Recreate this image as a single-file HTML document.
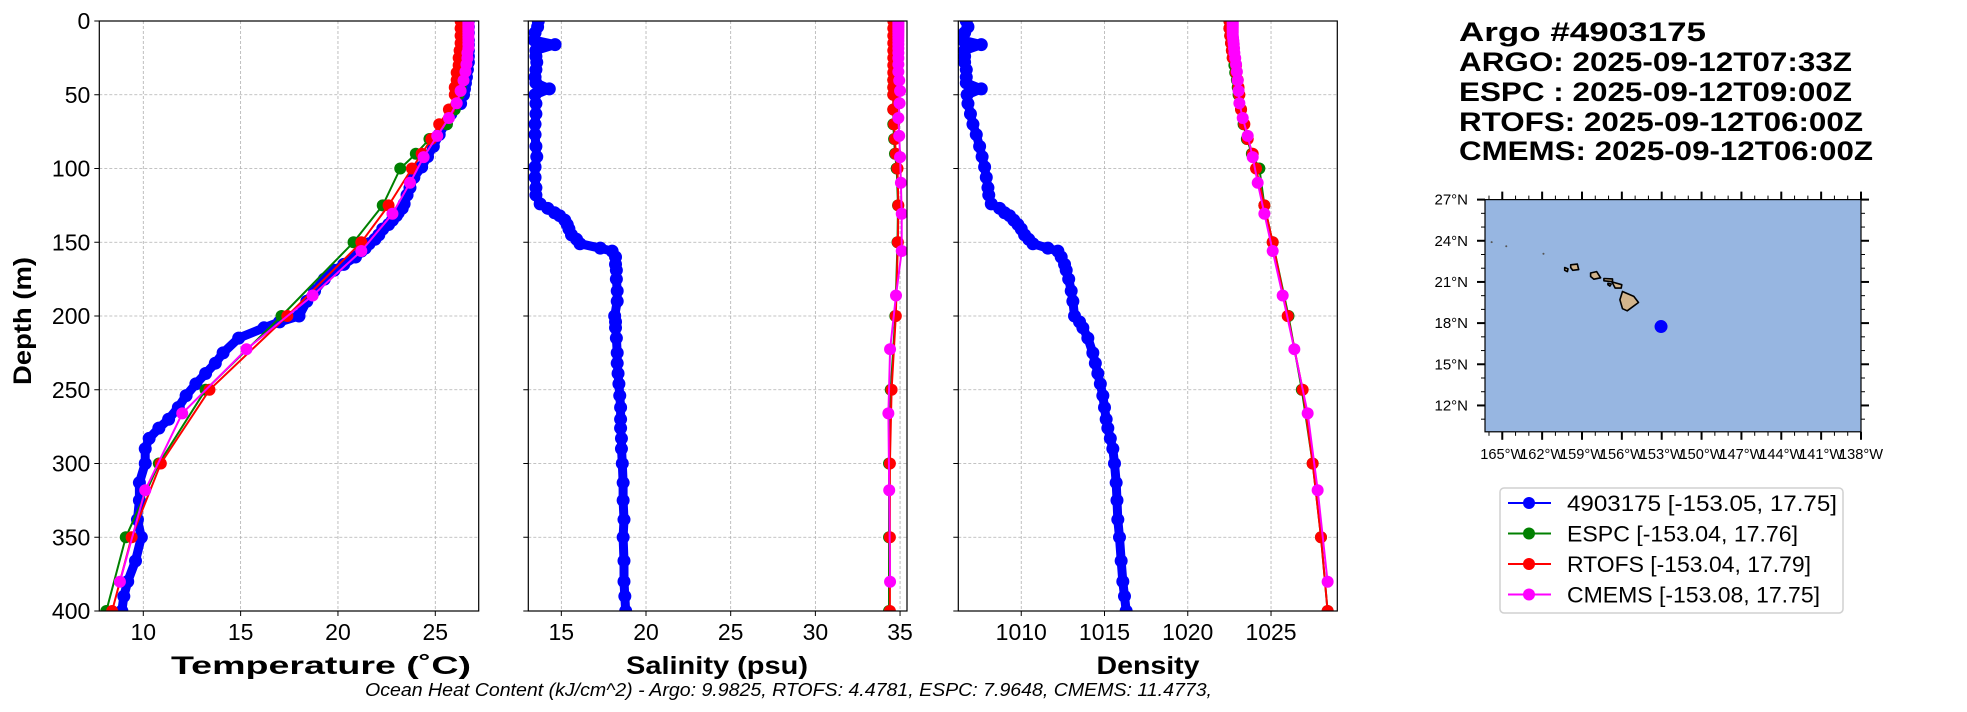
<!DOCTYPE html>
<html><head><meta charset="utf-8"><style>
html,body{margin:0;padding:0;background:#fff;}
svg{display:block;font-family:"Liberation Sans",sans-serif;}
</style></head><body>
<svg id="fig" width="1967" height="712" viewBox="0 0 1967 712" xmlns="http://www.w3.org/2000/svg">
<defs>
<clipPath id="cT"><rect x="99.3" y="21" width="379.4" height="590"/></clipPath>
<clipPath id="cS"><rect x="528.3" y="21" width="378.7" height="590"/></clipPath>
<clipPath id="cD"><rect x="958.3" y="21" width="379" height="590"/></clipPath>
<clipPath id="cM"><rect x="1485" y="199.6" width="376" height="232.2"/></clipPath>
</defs>
<g id="grid"></g>
<g id="series"></g>
<g id="axes"></g>
<g id="titles">
<text x="1459" y="41" font-size="27" font-weight="bold" textLength="247" lengthAdjust="spacingAndGlyphs">Argo #4903175</text>
<text x="1459" y="71" font-size="27" font-weight="bold" textLength="393" lengthAdjust="spacingAndGlyphs">ARGO: 2025-09-12T07:33Z</text>
<text x="1459" y="101" font-size="27" font-weight="bold" textLength="393" lengthAdjust="spacingAndGlyphs">ESPC : 2025-09-12T09:00Z</text>
<text x="1459" y="131" font-size="27" font-weight="bold" textLength="404" lengthAdjust="spacingAndGlyphs">RTOFS: 2025-09-12T06:00Z</text>
<text x="1459" y="160" font-size="27" font-weight="bold" textLength="414" lengthAdjust="spacingAndGlyphs">CMEMS: 2025-09-12T06:00Z</text>
</g>
<text x="365" y="696" font-size="18" font-style="italic" textLength="847" lengthAdjust="spacingAndGlyphs">Ocean Heat Content (kJ/cm^2) - Argo: 9.9825,  RTOFS: 4.4781,  ESPC: 7.9648,  CMEMS: 11.4773,</text>
<g id="map"></g>
<g id="legend"></g>
</svg>
<script>
const NS="http://www.w3.org/2000/svg";
function mk(tag,attrs,parent){const e=document.createElementNS(NS,tag);for(const k in attrs)e.setAttribute(k,attrs[k]);parent.appendChild(e);return e;}

// ---- data ----
const argoDepth=[0,4,8,13,16,20,24,28,33,38,42,46,50,56,63,70,77,85,92,99,106,113,118,124,127,130,132,135,138,141,145,148,151,154,156,160,165,169,175,183,190,200,204,208,215,225,232,239,246,254,262,270,276,283,290,300,313,325,338,350,366,380,390,400];
const argoTemp=[26.7,26.7,26.7,26.7,26.7,26.7,26.7,26.7,26.65,26.6,26.55,26.5,26.45,26.3,25.8,25.5,25.2,24.9,24.6,24.3,23.9,23.7,23.55,23.4,23.3,23.1,23.0,22.8,22.6,22.3,22.1,21.9,21.6,21.4,21.2,20.9,20.3,19.8,19.3,18.8,18.4,18.0,17.0,16.2,14.9,14.1,13.7,13.2,12.7,12.2,11.8,11.3,10.8,10.3,10.1,10.1,9.8,9.8,9.7,9.9,9.6,9.2,9.0,8.9];
const argoSal=[13.64,13.6,13.45,13.4,14.63,13.5,13.5,13.55,13.5,13.45,13.5,14.29,13.45,13.5,13.5,13.45,13.45,13.5,13.55,13.45,13.45,13.5,13.5,13.75,14.2,14.6,14.9,15.2,15.35,15.45,15.6,15.9,16.1,17.3,18.0,18.2,18.2,18.25,18.25,18.3,18.3,18.15,18.2,18.2,18.25,18.3,18.3,18.35,18.4,18.45,18.5,18.5,18.5,18.55,18.55,18.6,18.65,18.65,18.7,18.65,18.7,18.7,18.75,18.8];
const argoDens=[1006.7,1006.8,1006.6,1006.5,1007.6,1006.6,1006.6,1006.6,1006.7,1006.7,1006.7,1007.6,1006.75,1006.8,1006.95,1007.1,1007.3,1007.5,1007.65,1007.8,1007.9,1008.0,1008.05,1008.2,1008.7,1009.0,1009.3,1009.55,1009.8,1010.0,1010.2,1010.45,1010.7,1011.6,1012.2,1012.4,1012.6,1012.7,1012.85,1013.0,1013.1,1013.2,1013.5,1013.7,1014.0,1014.3,1014.45,1014.6,1014.75,1014.9,1015.0,1015.1,1015.2,1015.35,1015.5,1015.6,1015.7,1015.75,1015.8,1015.9,1016.0,1016.1,1016.2,1016.3];

const hycomDepth=[0,5,10,15,20,25,30,35,40,45,50,60,70,80,90,100,125,150,200,250,300,350,400];
const espcTemp=[26.5,26.5,26.5,26.5,26.5,26.45,26.4,26.4,26.35,26.3,26.2,26.0,25.6,24.7,24.0,23.2,22.3,20.8,17.1,13.2,10.8,9.1,8.1];
const espcSal=[34.65,34.65,34.65,34.65,34.65,34.65,34.65,34.65,34.6,34.6,34.6,34.6,34.6,34.65,34.7,34.8,34.88,34.85,34.72,34.45,34.35,34.35,34.35];
const espcDens=[1022.5,1022.5,1022.55,1022.6,1022.65,1022.7,1022.8,1022.85,1022.95,1023.0,1023.05,1023.2,1023.35,1023.55,1023.85,1024.3,1024.6,1025.1,1026.05,1026.85,1027.5,1028.0,1028.4];
const rtofsTemp=[26.3,26.3,26.3,26.3,26.25,26.2,26.2,26.1,26.1,26.0,26.0,25.7,25.2,24.8,24.3,23.8,22.6,21.2,17.4,13.4,10.9,9.4,8.4];
const rtofsSal=[34.6,34.6,34.6,34.6,34.6,34.6,34.6,34.6,34.6,34.6,34.6,34.6,34.65,34.7,34.75,34.85,34.9,34.87,34.75,34.5,34.4,34.4,34.4];
const rtofsDens=[1022.5,1022.5,1022.55,1022.6,1022.65,1022.7,1022.9,1022.9,1023.0,1023.05,1023.1,1023.2,1023.4,1023.6,1023.9,1024.1,1024.6,1025.1,1026.0,1026.9,1027.5,1028.0,1028.4];

const cmemsDepth=[0.5,1.5,2.6,3.8,5.1,6.4,7.9,9.6,11.4,13.5,15.8,18.5,21.6,25.2,29.4,34.4,40.3,47.4,55.8,65.8,77.9,92.3,109.7,130.7,155.9,186.1,222.5,266.0,318.1,380.2];
const cmemsTemp=[26.7,26.7,26.7,26.7,26.7,26.7,26.7,26.7,26.7,26.7,26.7,26.7,26.65,26.65,26.6,26.55,26.45,26.3,26.1,25.7,25.1,24.4,23.7,22.8,21.2,18.7,15.3,12.0,10.1,8.8];
const cmemsSal=[34.9,34.9,34.9,34.9,34.9,34.9,34.9,34.9,34.9,34.9,34.9,34.9,34.9,34.9,34.9,34.9,34.95,35.0,34.97,34.9,34.95,35.0,35.05,35.1,35.1,34.76,34.41,34.31,34.36,34.41];
const cmemsDens=[1022.7,1022.7,1022.7,1022.7,1022.7,1022.7,1022.7,1022.7,1022.72,1022.74,1022.76,1022.78,1022.8,1022.85,1022.9,1022.95,1023.0,1023.05,1023.1,1023.3,1023.6,1023.9,1024.2,1024.6,1025.1,1025.7,1026.4,1027.2,1027.8,1028.4];

const depthTicks=[0,50,100,150,200,250,300,350,400];
const tempTicks=[10,15,20,25];
const salTicks=[15,20,25,30,35];
const densTicks=[1010,1015,1020,1025];

const legendLabels=["4903175 [-153.05, 17.75]","ESPC [-153.04, 17.76]","RTOFS [-153.04, 17.79]","CMEMS [-153.08, 17.75]"];
const legendColors=["#0000ff","#008000","#ff0000","#ff00ff"];

const floatLon=[-153.05];
const floatLat=[17.75];
const lonTicks=[-165,-162,-159,-156,-153,-150,-147,-144,-141,-138];
const latTicks=[12,15,18,21,24,27];

// ---- scales ----
const Y0=21,Y1=611;
function yD(d){return Y0+d/400*(Y1-Y0);}
function lin(d0,d1,r0,r1){return v=>r0+(v-d0)/(d1-d0)*(r1-r0);}
const panels=[
 {key:"temperature",x:lin(7.74,27.23,99.3,478.7),x0:99.3,x1:478.7,ticks:tempTicks,clip:"cT",label:"Temperature (˚C)",lx:321,lw:300},
 {key:"salinity",x:lin(13.05,35.41,528.3,907),x0:528.3,x1:907,ticks:salTicks,clip:"cS",label:"Salinity (psu)",lx:717,lw:182},
 {key:"density",x:lin(1006.22,1028.98,958.3,1337.3),x0:958.3,x1:1337.3,ticks:densTicks,clip:"cD",label:"Density",lx:1148,lw:103}
];
const seriesSets=[
 {name:"argo",color:"#0000ff",depth:argoDepth,vals:[argoTemp,argoSal,argoDens],lw:9,r:6.5},
 {name:"espc",color:"#008000",depth:hycomDepth,vals:[espcTemp,espcSal,espcDens],lw:2,r:6},
 {name:"rtofs",color:"#ff0000",depth:hycomDepth,vals:[rtofsTemp,rtofsSal,rtofsDens],lw:2,r:6},
 {name:"cmems",color:"#ff00ff",depth:cmemsDepth,vals:[cmemsTemp,cmemsSal,cmemsDens],lw:2,r:6}
];

const gGrid=document.getElementById('grid'),gSer=document.getElementById('series'),gAx=document.getElementById('axes');
panels.forEach((p,pi)=>{
  p.ticks.forEach(t=>{
    const l=mk('line',{x1:p.x(t),x2:p.x(t),y1:Y0,y2:Y1,stroke:'#b0b0b0','stroke-width':0.8,'stroke-dasharray':'3,2'},gGrid);
    
    
  });
  depthTicks.forEach(t=>{
    const l=mk('line',{x1:p.x0,x2:p.x1,y1:yD(t),y2:yD(t),stroke:'#b0b0b0','stroke-width':0.8,'stroke-dasharray':'3,2'},gGrid);
    
    
  });
  const g=mk('g',{'clip-path':'url(#'+p.clip+')'},gSer);
  
  
  seriesSets.forEach(s=>{
    const vals=s.vals[pi];
    const pts=s.depth.map((d,i)=>p.x(vals[i]).toFixed(1)+','+yD(d).toFixed(1)).join(' ');
    const pl=mk('polyline',{points:pts,fill:'none',stroke:s.color,'stroke-width':s.lw,'stroke-linejoin':'round','stroke-linecap':'round'},g);
    
    
    s.depth.forEach((d,i)=>{
      const c=mk('circle',{cx:p.x(vals[i]),cy:yD(d),r:s.r,fill:s.color},g);
      
      
    });
  });
  const fr=mk('rect',{x:p.x0,y:Y0,width:p.x1-p.x0,height:Y1-Y0,fill:'none',stroke:'#000','stroke-width':1.2},gAx);
  
  
  p.ticks.forEach(t=>{
    mk('line',{x1:p.x(t),x2:p.x(t),y1:Y1,y2:Y1+5,stroke:'#000','stroke-width':1},gAx);
    const tx=mk('text',{x:p.x(t),y:Y1+29,'font-size':23,'text-anchor':'middle'},gAx);
    tx.textContent=t;
    
    
  });
  depthTicks.forEach(t=>{
    mk('line',{x1:p.x0-5,x2:p.x0,y1:yD(t),y2:yD(t),stroke:'#000','stroke-width':1},gAx);
    if(pi===0){
      const tx=mk('text',{x:p.x0-9,y:yD(t)+8,'font-size':23,'text-anchor':'end'},gAx);
      tx.textContent=t;
      
      
    }
  });
  const lb=mk('text',{x:p.lx,y:674,'font-size':25,'font-weight':'bold','text-anchor':'middle',textLength:p.lw,lengthAdjust:'spacingAndGlyphs'},gAx);
  lb.textContent=p.label;
  
  
});
const yl=mk('text',{x:0,y:0,'font-size':25,'font-weight':'bold','text-anchor':'middle',transform:'translate(31,321) rotate(-90)',textLength:128,lengthAdjust:'spacingAndGlyphs'},gAx);
yl.textContent='Depth (m)';



// ---- map ----
const gM=document.getElementById('map');


const MX0=1485,MX1=1861,MY0=199.6,MY1=431.8;
const mx=lin(-166.3,-138,MX0,MX1), my=lin(27,10.08,MY0,MY1);
const sea=mk('rect',{x:MX0,y:MY0,width:MX1-MX0,height:MY1-MY0,fill:'#97b6e1'},gM);


const islands=[
 {n:'hawaii',lon:[-155.95,-155.1,-154.75,-155.6,-155.95,-156.15,-155.95],lat:[20.3,19.95,19.5,18.9,19.05,19.7,20.3]},
 {n:'maui',lon:[-156.75,-156.0,-156.05,-156.5,-156.75],lat:[21.0,20.8,20.55,20.55,21.0]},
 {n:'molokai',lon:[-157.35,-156.7,-156.7,-157.35],lat:[21.25,21.22,21.02,21.08]},
 {n:'lanai',lon:[-157.05,-156.8,-156.9,-157.05],lat:[20.9,20.85,20.7,20.8]},
 {n:'oahu',lon:[-158.35,-157.9,-157.6,-158.1,-158.35],lat:[21.65,21.75,21.3,21.2,21.4]},
 {n:'kauai',lon:[-159.85,-159.35,-159.25,-159.7,-159.85],lat:[22.25,22.3,21.9,21.85,22.05]},
 {n:'niihau',lon:[-160.3,-160.05,-160.1,-160.3],lat:[22.05,21.95,21.75,21.85]}
];
const gL=mk('g',{'clip-path':'url(#cM)'},gM);
islands.forEach(is=>{
  const pts=is.lon.map((lo,i)=>mx(lo).toFixed(1)+','+my(is.lat[i]).toFixed(1)).join(' ');
  const pg=mk('polygon',{points:pts,fill:'#d2b48c',stroke:'#000','stroke-width':1.6,'stroke-linejoin':'round'},gL);
  
  
});
[[-165.8,23.9],[-164.7,23.6],[-161.9,23.05]].forEach(p=>{
  const c=mk('circle',{cx:mx(p[0]),cy:my(p[1]),r:1,fill:'#555'},gL);
  
  
});
floatLon.forEach((lo,i)=>{
  const c=mk('circle',{cx:mx(lo),cy:my(floatLat[i]),r:6.5,fill:'#0000ff'},gM);
  
  
});
const mf=mk('rect',{x:MX0,y:MY0,width:MX1-MX0,height:MY1-MY0,fill:'none',stroke:'#000','stroke-width':1.2},gM);


for(let lo=-166;lo<=-138;lo++){
  const major=lonTicks.indexOf(lo)>=0, L=major?8:4, X=mx(lo);
  mk('line',{x1:X,x2:X,y1:MY1,y2:MY1+L,stroke:'#000','stroke-width':major?2:1},gM);
  mk('line',{x1:X,x2:X,y1:MY0-L,y2:MY0,stroke:'#000','stroke-width':major?2:1},gM);
}
for(let la=11;la<=27;la++){
  const major=latTicks.indexOf(la)>=0, L=major?8:4, Y=my(la);
  mk('line',{x1:MX0-L,x2:MX0,y1:Y,y2:Y,stroke:'#000','stroke-width':major?2:1},gM);
  mk('line',{x1:MX1,x2:MX1+L,y1:Y,y2:Y,stroke:'#000','stroke-width':major?2:1},gM);
}
lonTicks.forEach(lo=>{
  const t=mk('text',{x:mx(lo),y:MY1+27,'font-size':15,'text-anchor':'middle',textLength:44,lengthAdjust:'spacingAndGlyphs'},gM);
  t.textContent=Math.abs(lo)+'°W';
  
  
});
latTicks.forEach(la=>{
  const t=mk('text',{x:MX0-17,y:my(la)+5,'font-size':15,'text-anchor':'end'},gM);
  t.textContent=la+'°N';
  
  
});

// ---- legend ----
const gLg=document.getElementById('legend');
mk('rect',{x:1500,y:488,width:343,height:125,rx:4,fill:'#fff',stroke:'#d0d0d0','stroke-width':1.5},gLg);
const legendWidths=[270,231,244,253];
legendLabels.forEach((lab,i)=>{
  const y=503+i*30.5;
  const ln=mk('line',{x1:1508,x2:1551,y1:y,y2:y,stroke:legendColors[i],'stroke-width':2},gLg);
  
  
  const c=mk('circle',{cx:1529,cy:y,r:6,fill:legendColors[i]},gLg);
  
  
  const t=mk('text',{x:1567,y:y+8,'font-size':22,textLength:legendWidths[i],lengthAdjust:'spacingAndGlyphs'},gLg);
  t.textContent=lab;
  
  
});
</script>
</body></html>
